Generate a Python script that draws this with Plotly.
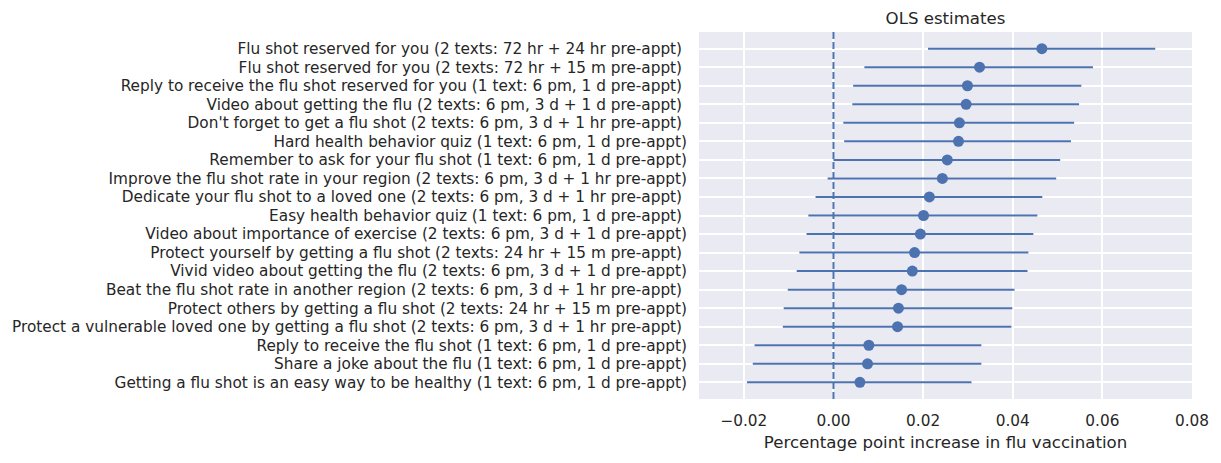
import plotly.graph_objects as go

labels = [
    "Flu shot reserved for you (2 texts: 72 hr + 24 hr pre-appt) ",
    "Flu shot reserved for you (2 texts: 72 hr + 15 m pre-appt) ",
    "Reply to receive the flu shot reserved for you (1 text: 6 pm, 1 d pre-appt) ",
    "Video about getting the flu (2 texts: 6 pm, 3 d + 1 d pre-appt) ",
    "Don't forget to get a flu shot (2 texts: 6 pm, 3 d + 1 hr pre-appt) ",
    "Hard health behavior quiz (1 text: 6 pm, 1 d pre-appt)",
    "Remember to ask for your flu shot (1 text: 6 pm, 1 d pre-appt)",
    "Improve the flu shot rate in your region (2 texts: 6 pm, 3 d + 1 hr pre-appt)",
    "Dedicate your flu shot to a loved one (2 texts: 6 pm, 3 d + 1 hr pre-appt) ",
    "Easy health behavior quiz (1 text: 6 pm, 1 d pre-appt) ",
    "Video about importance of exercise (2 texts: 6 pm, 3 d + 1 d pre-appt)",
    "Protect yourself by getting a flu shot (2 texts: 24 hr + 15 m pre-appt) ",
    "Vivid video about getting the flu (2 texts: 6 pm, 3 d + 1 d pre-appt)",
    "Beat the flu shot rate in another region (2 texts: 6 pm, 3 d + 1 hr pre-appt) ",
    "Protect others by getting a flu shot (2 texts: 24 hr + 15 m pre-appt)",
    "Protect a vulnerable loved one by getting a flu shot (2 texts: 6 pm, 3 d + 1 hr pre-appt) ",
    "Reply to receive the flu shot (1 text: 6 pm, 1 d pre-appt)",
    "Share a joke about the flu (1 text: 6 pm, 1 d pre-appt)",
    "Getting a flu shot is an easy way to be healthy (1 text: 6 pm, 1 d pre-appt)",
]
estimates = [0.0465, 0.0326, 0.0299, 0.0296, 0.0281, 0.0279, 0.0254, 0.0243, 0.0214, 0.0201,
             0.0194, 0.0181, 0.0176, 0.0152, 0.0145, 0.0143, 0.0079, 0.0076, 0.0059]
ci_low = [0.0211, 0.0069, 0.0044, 0.0042, 0.0022, 0.0024, 0.0000, -0.0013, -0.0040, -0.0056,
          -0.0060, -0.0076, -0.0082, -0.0102, -0.0111, -0.0113, -0.0176, -0.0180, -0.0193]
ci_high = [0.0718, 0.0579, 0.0553, 0.0548, 0.0537, 0.0530, 0.0506, 0.0497, 0.0466, 0.0455,
           0.0446, 0.0435, 0.0433, 0.0404, 0.0399, 0.0397, 0.0330, 0.0330, 0.0308]
x_ticks = [-0.02, 0.0, 0.02, 0.04, 0.06, 0.08]
x_tick_text = ["\u22120.02", "0.00", "0.02", "0.04", "0.06", "0.08"]

color = "#4C72B0"
text_color = "#262626"
font_family = "DejaVu Sans"

idx = list(range(len(labels)))
err_plus = [h - e for h, e in zip(ci_high, estimates)]
err_minus = [e - l for e, l in zip(estimates, ci_low)]

fig = go.Figure()
fig.add_trace(go.Scatter(
    x=estimates, y=idx, mode="markers",
    marker=dict(color=color, size=11),
    error_x=dict(type="data", symmetric=False, array=err_plus, arrayminus=err_minus,
                 color=color, thickness=2, width=0),
    showlegend=False,
))
fig.add_shape(type="line", xref="x", yref="paper", x0=0, x1=0, y0=0, y1=1,
              line=dict(color=color, width=2, dash="7px,3px"))

n = len(labels)
pad = 0.05 * (n - 1)
fig.update_layout(
    width=1221, height=463,
    margin=dict(l=698, r=28, t=32, b=64),
    paper_bgcolor="white", plot_bgcolor="#EAEAF2",
    font=dict(family=font_family, size=15.3, color=text_color),
    title=dict(text="OLS estimates", x=(698 + 1193) / 2 / 1221, xanchor="center",
               y=1 - 18 / 463, yanchor="middle", font=dict(size=16.6, color=text_color)),
    xaxis=dict(range=[-0.03, 0.08], tickvals=x_ticks, ticktext=x_tick_text,
               showgrid=True, gridcolor="white", gridwidth=1.5, zeroline=False,
               ticks="outside", ticklen=8, tickcolor="rgba(0,0,0,0)",
               title=dict(text="Percentage point increase in flu vaccination",
                          font=dict(size=16.6, color=text_color), standoff=7),
               showline=False),
    yaxis=dict(range=[n - 1 + pad, -pad], tickvals=idx, ticktext=labels,
               showgrid=True, gridcolor="white", gridwidth=1.5, zeroline=False,
               ticks="outside", ticklen=8, tickcolor="rgba(0,0,0,0)", showline=False),
)
fig.write_html("out.html")
